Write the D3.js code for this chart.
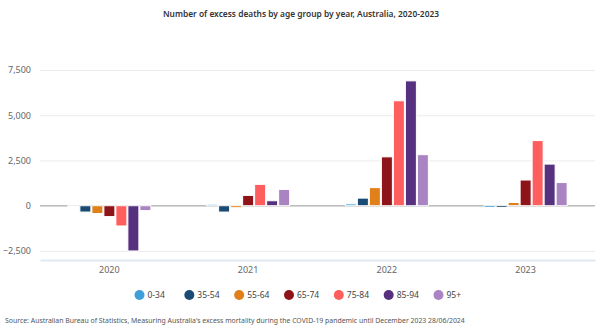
<!DOCTYPE html>
<html lang="en">
<head>
<meta charset="utf-8">
<title>Excess deaths by age group</title>
<script src="https://cdnjs.cloudflare.com/ajax/libs/d3/7.8.5/d3.min.js"></script>
<style>
  html, body { margin: 0; padding: 0; background: white; }
  svg { display: block; font-family: "Noto Sans", "Open Sans", sans-serif; }
</style>
</head>
<body>
<svg id="chart" width="600" height="333"></svg>
<script>
  // data
  var years = ["2020", "2021", "2022", "2023"];
  var ageGroups = ["0-34", "35-54", "55-64", "65-74", "75-84", "85-94", "95+"];
  var colours = ["#3f9fd8", "#1a4b74", "#e0801b", "#8f1419", "#ff5e5e", "#56317f", "#aa84c2"];
  var v2020 = [-30, -350, -430, -600, -1120, -2500, -270];
  var v2021 = [80, -350, -110, 570, 1180, 275, 900];
  var v2022 = [100, 420, 1000, 2700, 5800, 6900, 2820];
  var v2023 = [-100, -100, 180, 1420, 3600, 2300, 1280];
  var yTicks = [-2500, 0, 2500, 5000, 7500];

  var values = [v2020, v2021, v2022, v2023];

  var svg = d3.select("#chart");
  var left = 40, right = 595;

  var y = d3.scaleLinear().domain([-3000, 7500]).range([260, 70]);
  var x0 = d3.scaleBand().domain(years).range([left, right]);
  var bw = x0.bandwidth();
  var x1 = d3.scaleBand().domain(ageGroups).range([bw / 2 - 42, bw / 2 + 42]);

  svg.append("text")
    .attr("x", 301).attr("y", 17)
    .attr("text-anchor", "middle")
    .attr("font-size", "8.4px")
    .attr("font-weight", 600)
    .attr("fill", "#333")
    .text("Number of excess deaths by age group by year, Australia, 2020-2023");

  // gridlines + labels
  var yAxis = d3.axisLeft(y).tickValues(yTicks).tickSize(-(right - left)).tickFormat(d3.format(","));
  var gy = svg.append("g").attr("transform", "translate(" + left + ",0)").call(yAxis);
  gy.select(".domain").remove();
  gy.selectAll(".tick line").attr("stroke", "#ececec").attr("stroke-width", 1);
  gy.selectAll(".tick text").attr("x", -9).attr("fill", "#666").attr("font-size", "9px")
    .attr("font-family", "'Noto Sans', sans-serif");

  // bottom axis
  var xAxis = d3.axisBottom(x0).tickSize(0).tickPadding(7);
  var gx = svg.append("g").attr("transform", "translate(0," + y(-3000) + ")").call(xAxis);
  gx.select(".domain").attr("stroke", "#dfe9f3").attr("stroke-width", 2);
  gx.selectAll(".tick text").attr("fill", "#666").attr("font-size", "9px")
    .attr("font-family", "'Noto Sans', sans-serif");

  // zero line
  svg.append("line")
    .attr("x1", left).attr("x2", right)
    .attr("y1", y(0)).attr("y2", y(0))
    .attr("stroke", "#bdbdbd").attr("stroke-width", 1.5);

  var groups = svg.selectAll("g.year")
    .data(years)
    .enter().append("g")
    .attr("class", "year")
    .attr("transform", function(d) { return "translate(" + x0(d) + ",0)"; });

  groups.selectAll("rect")
    .data(function(d, i) {
      return ageGroups.map(function(a, j) { return { age: a, value: values[i][j], c: colours[j] }; });
    })
    .enter().append("rect")
    .attr("x", function(d) { return x1(d.age) + 0.5; })
    .attr("width", x1.bandwidth() - 1)
    .attr("y", function(d) { return Math.min(y(d.value), y(0)); })
    .attr("height", function(d) { return Math.max(1, Math.abs(y(d.value) - y(0))); })
    .attr("fill", function(d) { return d.c; })
    .attr("stroke", "white")
    .attr("stroke-width", 1);

  // legend
  var lx = d3.scalePoint().domain(ageGroups).range([139.5, 438.5]);
  var leg = svg.selectAll("g.leg")
    .data(ageGroups)
    .enter().append("g")
    .attr("class", "leg")
    .attr("transform", function(d) { return "translate(" + lx(d) + ",295)"; });
  leg.append("circle").attr("r", 5).attr("fill", function(d, i) { return colours[i]; });
  leg.append("text")
    .attr("x", 8).attr("y", 3)
    .attr("font-size", "8.5px").attr("fill", "#444")
    .text(function(d) { return d; });

  svg.append("text")
    .attr("x", 5).attr("y", 323)
    .attr("font-size", "6.9px").attr("fill", "#555")
    .text("Source: Australian Bureau of Statistics, Measuring Australia's excess mortality during the COVID-19 pandemic until December 2023 28/06/2024");
</script>
</body>
</html>
